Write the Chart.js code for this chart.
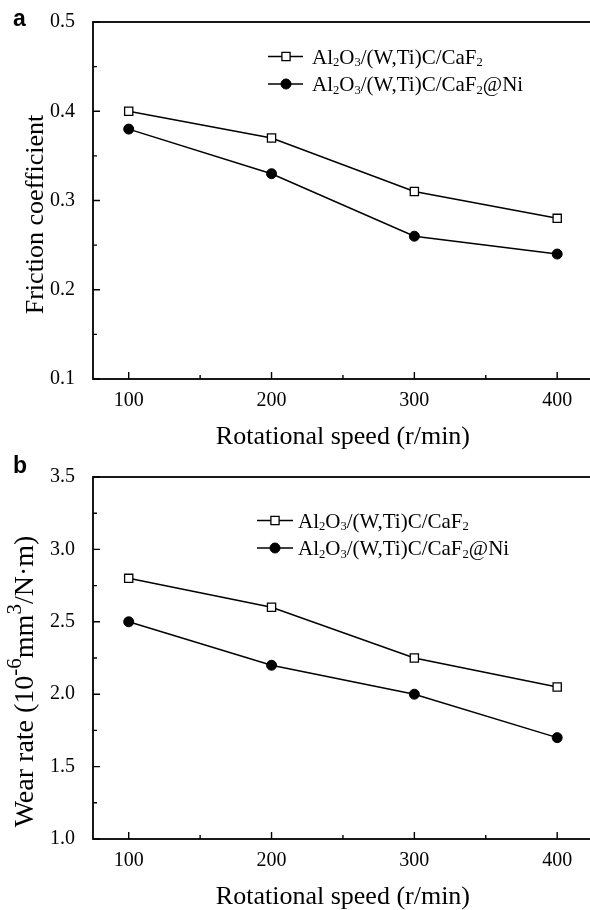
<!DOCTYPE html>
<html>
<head>
<meta charset="utf-8">
<script src="https://cdn.jsdelivr.net/npm/chart.js@4.4.0/dist/chart.umd.min.js"></script>
<style>
  html, body { margin: 0; padding: 0; background: #fff; overflow: hidden; width: 590px; height: 910px; }
  .panel { position: absolute; left: 0; width: 600px; }
  #wrapA { top: 0; height: 455px; }
  #wrapB { top: 455px; height: 460px; }
</style>
</head>
<body>
<div class="panel" id="wrapA"><canvas id="chartA"></canvas></div>
<div class="panel" id="wrapB"><canvas id="chartB"></canvas></div>
<script>
// --- Data ---
const speeds = [100, 200, 300, 400];
const seriesNames = ["Al₂O₃/(W,Ti)C/CaF₂", "Al₂O₃/(W,Ti)C/CaF₂@Ni"];

// (a) friction coefficient
const frictionPlain = [0.40, 0.37, 0.31, 0.28];
const frictionNi = [0.38, 0.33, 0.26, 0.24];

// (b) wear rate
const wearPlain = [2.80, 2.60, 2.25, 2.05];
const wearNi = [2.50, 2.20, 2.00, 1.70];

// axes
const xTicks = [100, 200, 300, 400];
const xMinor = [150, 250, 350];
const yTicksA = ["0.1", "0.2", "0.3", "0.4", "0.5"];
const yMinorA = [0.15, 0.25, 0.35, 0.45];
const yTicksB = ["1.0", "1.5", "2.0", "2.5", "3.0", "3.5"];
const yMinorB = [1.25, 1.75, 2.25, 2.75, 3.25];
const xTitle = "Rotational speed (r/min)";
const yTitleA = "Friction coefficient";
const yTitleB = "Wear rate (10⁻⁶mm³/N·m)";

const SERIF = "'Liberation Serif', 'Times New Roman', serif";
Chart.defaults.font.family = SERIF;
Chart.defaults.color = "#000";

// --- Rich text (sub / superscripts) ---
const SUB = "₀₁₂₃₄₅₆₇₈₉";
const SUP = "⁰¹²³⁴⁵⁶⁷⁸⁹";

function richParts(str) {
  const parts = [];
  for (const ch of str) {
    let mode = 0, c = ch, k;
    if ((k = SUB.indexOf(ch)) >= 0) { mode = -1; c = String(k); }
    else if ((k = SUP.indexOf(ch)) >= 0) { mode = 1; c = String(k); }
    else if (ch === "⁻") { mode = 1; c = "-"; }
    const last = parts[parts.length - 1];
    if (last && last.mode === mode) last.t += c;
    else parts.push({ t: c, mode });
  }
  return parts;
}

function drawRich(ctx, str, x, y, size, align) {
  const parts = richParts(str);
  const fontFor = (m) => (m === 0 ? size : m === 1 ? size * 0.75 : size * 0.6) + "px " + SERIF;
  let w = 0;
  parts.forEach((p) => { ctx.font = fontFor(p.mode); p.w = ctx.measureText(p.t).width; w += p.w; });
  let cx = align === "center" ? x - w / 2 : x;
  ctx.textAlign = "left";
  ctx.textBaseline = "alphabetic";
  parts.forEach((p) => {
    ctx.font = fontFor(p.mode);
    const dy = p.mode === 1 ? -size * 0.42 : p.mode === -1 ? size * 0.12 : 0;
    ctx.fillText(p.t, cx, y + dy);
    cx += p.w;
  });
}

// --- Frame, inward ticks, legend, titles ---
const decorPlugin = {
  id: "decor",
  beforeDatasetsDraw(chart, args, o) {
    const { ctx, chartArea: a, scales: { x, y } } = chart;
    ctx.save();
    ctx.strokeStyle = "#000";
    ctx.lineWidth = 1.8;
    ctx.strokeRect(a.left, a.top, a.right - a.left, a.bottom - a.top);
    ctx.lineWidth = 1.4;
    ctx.beginPath();
    xTicks.forEach((v) => { const px = x.getPixelForValue(v); ctx.moveTo(px, a.bottom); ctx.lineTo(px, a.bottom - 7); });
    xMinor.forEach((v) => { const px = x.getPixelForValue(v); ctx.moveTo(px, a.bottom); ctx.lineTo(px, a.bottom - 4); });
    o.yTicks.forEach((s) => { const py = y.getPixelForValue(parseFloat(s)); ctx.moveTo(a.left, py); ctx.lineTo(a.left + 7, py); });
    o.yMinor.forEach((v) => { const py = y.getPixelForValue(v); ctx.moveTo(a.left, py); ctx.lineTo(a.left + 4, py); });
    ctx.stroke();
    ctx.restore();
  },
  afterDraw(chart, args, o) {
    const ctx = chart.ctx;
    ctx.save();
    ctx.fillStyle = "#000";

    // panel letter
    ctx.font = "bold 23px 'Liberation Sans', Arial, sans-serif";
    ctx.textAlign = "left";
    ctx.textBaseline = "alphabetic";
    ctx.fillText(o.letter, 13, o.letterY);

    // y title
    ctx.save();
    ctx.translate(o.yTitleX, o.yTitleY);
    ctx.rotate(-Math.PI / 2);
    drawRich(ctx, o.yTitle, 0, 0, o.yTitleSize, "center");
    ctx.restore();

    // legend
    chart.data.datasets.forEach((ds, i) => {
      const ly = o.legendRows[i];
      ctx.strokeStyle = ds.borderColor;
      ctx.lineWidth = ds.borderWidth;
      ctx.beginPath();
      ctx.moveTo(o.legendLine[0], ly);
      ctx.lineTo(o.legendLine[1], ly);
      ctx.stroke();
      ctx.fillStyle = ds.pointBackgroundColor;
      ctx.strokeStyle = ds.pointBorderColor;
      ctx.lineWidth = ds.pointBorderWidth;
      Chart.helpers.drawPoint(ctx, { pointStyle: ds.pointStyle, radius: ds.pointRadius, borderWidth: ds.pointBorderWidth, rotation: 0 }, o.legendMarker, ly);
      ctx.fillStyle = "#000";
      drawRich(ctx, ds.label, o.legendText, ly + 7, 21, "left");
    });
    ctx.restore();
  },
};

function makeDatasets(plain, ni) {
  return [
    {
      label: seriesNames[0],
      data: speeds.map((s, i) => ({ x: s, y: plain[i] })),
      borderColor: "#000",
      borderWidth: 1.5,
      pointStyle: "rect",
      pointRadius: 5.8,
      pointBackgroundColor: "#fff",
      pointBorderColor: "#000",
      pointBorderWidth: 1.3,
      tension: 0,
    },
    {
      label: seriesNames[1],
      data: speeds.map((s, i) => ({ x: s, y: ni[i] })),
      borderColor: "#000",
      borderWidth: 1.5,
      pointStyle: "circle",
      pointRadius: 5,
      pointBackgroundColor: "#000",
      pointBorderColor: "#000",
      pointBorderWidth: 1,
      tension: 0,
    },
  ];
}

function makeChart(id, plain, ni, yTicks, yMinor, padding, decor) {
  return new Chart(document.getElementById(id), {
    type: "line",
    data: { datasets: makeDatasets(plain, ni) },
    options: {
      responsive: true,
      maintainAspectRatio: false,
      animation: false,
      layout: { padding },
      plugins: { legend: { display: false }, tooltip: { enabled: false }, decor },
      scales: {
        x: {
          type: "linear",
          min: 75,
          max: 425,
          grid: { display: false },
          border: { display: false },
          afterBuildTicks: (s) => { s.ticks = xTicks.map((v) => ({ value: v })); },
          afterFit: (s) => { s.height = 74; },
          ticks: { font: { size: 20 }, padding: 2, maxRotation: 0, color: "#000" },
          title: { display: true, text: xTitle, font: { size: 26 }, padding: 0, color: "#000" },
        },
        y: {
          type: "linear",
          min: parseFloat(yTicks[0]),
          max: parseFloat(yTicks[yTicks.length - 1]),
          grid: { display: false },
          border: { display: false },
          afterBuildTicks: (s) => { s.ticks = yTicks.map((v) => ({ value: parseFloat(v) })); },
          afterFit: (s) => { s.width = 93; },
          ticks: {
            font: { size: 20 },
            padding: 10,
            color: "#000",
            callback: (v) => yTicks.find((t) => Math.abs(parseFloat(t) - v) < 1e-9),
          },
        },
      },
    },
    plugins: [decorPlugin],
  });
}

makeChart("chartA", frictionPlain, frictionNi, yTicksA, yMinorA,
  { top: 14, right: 5, bottom: 2, left: 0 },
  {
    letter: "a", letterY: 26, yTicks: yTicksA, yMinor: yMinorA,
    yTitle: yTitleA, yTitleX: 43, yTitleY: 214.5, yTitleSize: 26,
    legendRows: [56.5, 84], legendLine: [268, 303], legendMarker: 286, legendText: 312,
  });

makeChart("chartB", wearPlain, wearNi, yTicksB, yMinorB,
  { top: 19, right: 5, bottom: 2, left: 0 },
  {
    letter: "b", letterY: 18, yTicks: yTicksB, yMinor: yMinorB,
    yTitle: yTitleB, yTitleX: 33, yTitleY: 226.5, yTitleSize: 28,
    legendRows: [65.5, 93], legendLine: [257, 293], legendMarker: 275, legendText: 298,
  });
</script>
</body>
</html>
